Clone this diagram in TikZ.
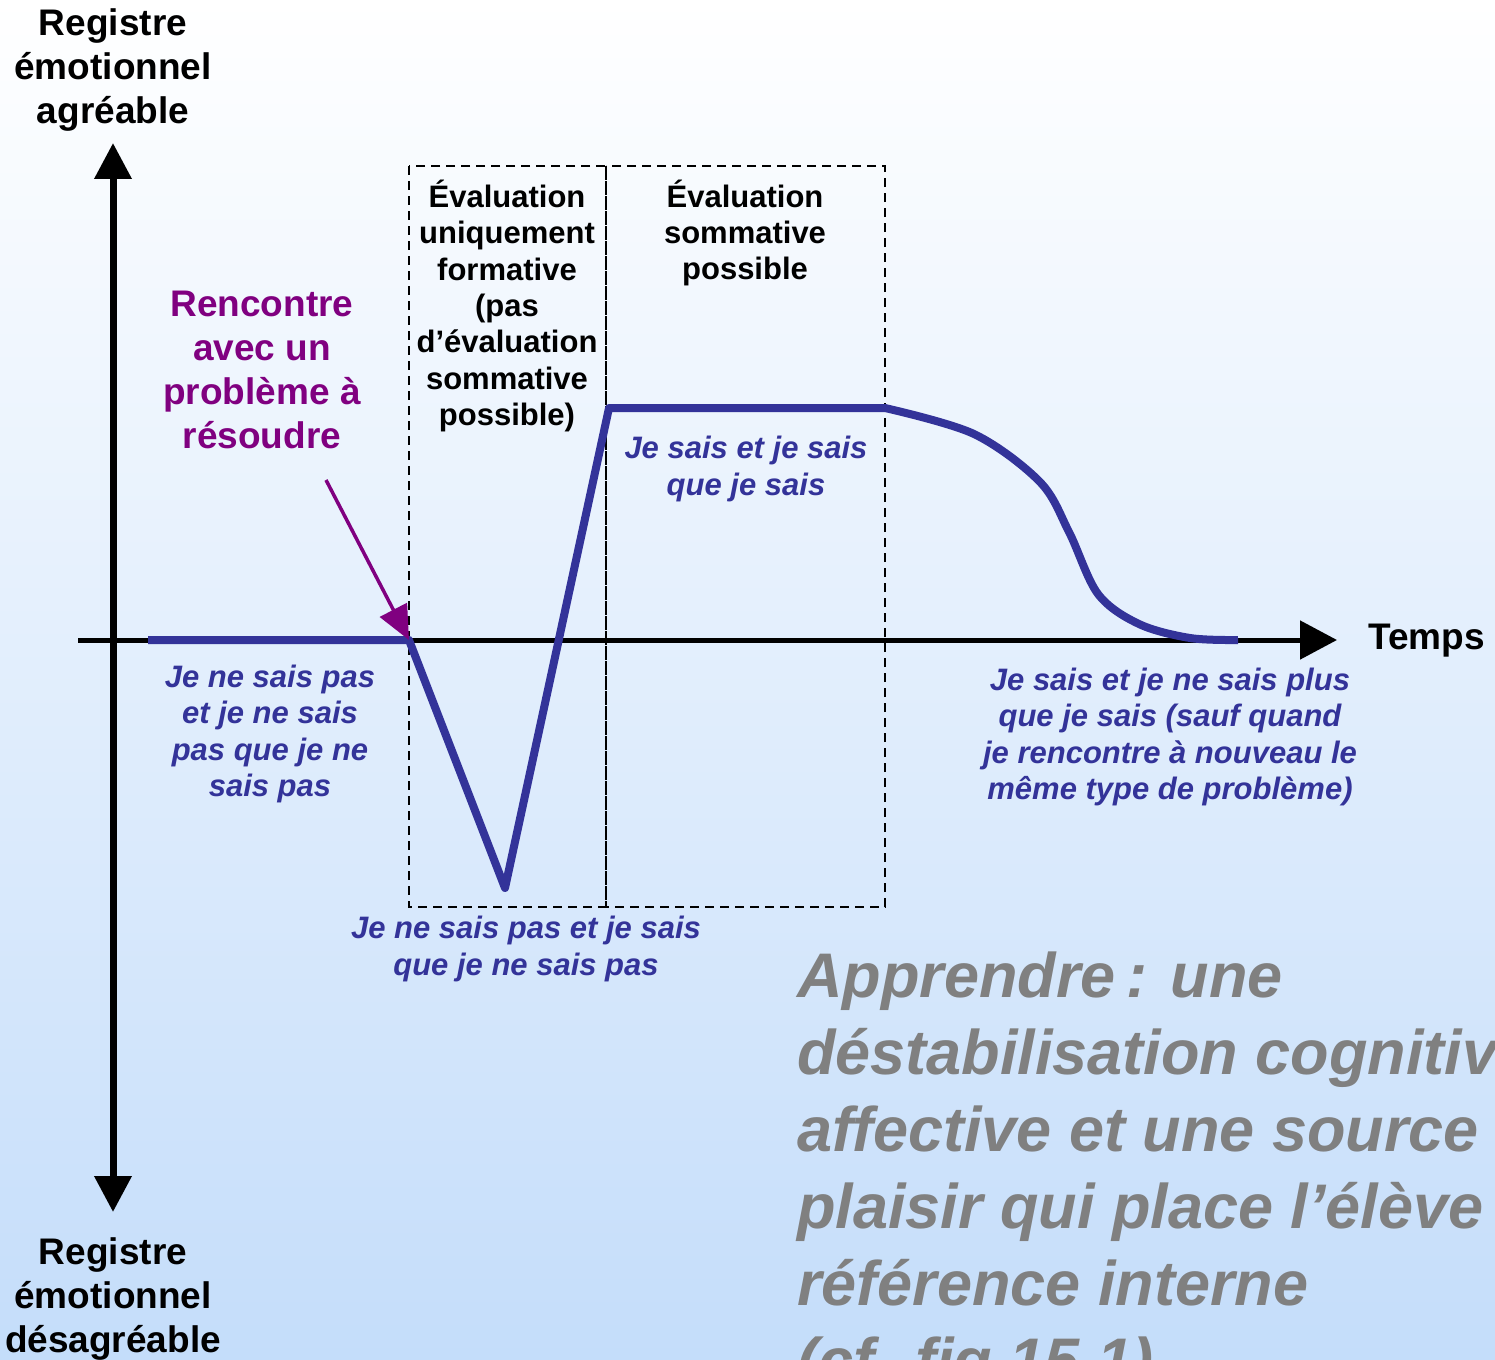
\documentclass[tikz,border=0pt]{standalone}
\usepackage{fontspec}
\setmainfont{Liberation Sans}
\usetikzlibrary{arrows.meta, positioning}
\definecolor{curveblue}{RGB}{51,51,153}
\definecolor{notepurple}{RGB}{128,0,128}
\definecolor{titlegray}{RGB}{128,128,128}
\definecolor{bgblue}{RGB}{196,221,250}
\tikzset{
    axis/.style={line width=7pt},
    bigtip/.style={{Triangle[width=36pt,length=36pt]}-{Triangle[width=36pt,length=36pt]}},
    axislabel/.style={
        font=\fontsize{37}{44}\selectfont\bfseries,
        align=center,
        inner sep=0pt
    },
    zone/.style={draw, line width=2.5pt, dash pattern=on 9pt off 6pt},
    zonelabel/.style={
        font=\fontsize{31}{36.3}\selectfont\bfseries,
        align=center,
        inner sep=0pt
    },
    state/.style={
        font=\fontsize{31}{36.5}\selectfont\bfseries\itshape,
        text=curveblue,
        align=center,
        inner sep=0pt
    },
    curve/.style={curveblue, line width=8pt, line join=round},
    pointer/.style={-{Triangle[width=30pt,length=34pt]}, notepurple, line width=3.5pt},
    title/.style={font=\fontsize{63}{77}\selectfont\bfseries\itshape, text=titlegray, align=left, inner sep=0pt}
}

\begin{document}
\begin{tikzpicture}[x=1pt, y=-1pt, node distance=30pt]
\useasboundingbox (0,0) rectangle (1495,1359);
\clip (0,0) rectangle (1495,1359);
\shade[top color=white, bottom color=bgblue] (0,0) rectangle (1495,1359);

\coordinate (top) at (113,143);
\coordinate (bottom) at (113,1212);
\coordinate (left) at (78,640);
\coordinate (right) at (1337,640);

\draw[zone] (409,166) rectangle (606,907);
\draw[zone] (606,166) rectangle (885,907);

\draw[axis, bigtip] (bottom) -- (top);
\draw[axis, line width=5pt, -{Triangle[width=38pt,length=37pt]}] (left) -- (right);

\coordinate (start) at (148,640);
\coordinate (o) at (409,640);
\coordinate (creux) at (505,888);
\coordinate (sommet) at (609,408);
\coordinate (plateau) at (885,408);
\coordinate (fin) at (1238,640);

\draw[curve] (start) -- (o) -- (creux) -- (sommet) -- (plateau)
    -- plot[smooth, tension=0.55] coordinates {(plateau) (974,434) (1040,482) (1069,532) (1098,594) (1139,624) (1190,638) (fin)};

\node[axislabel] (haut) at (113,70) {Registre\\émotionnel\\agréable};
\node[axislabel] (bas) at (113,1299) {Registre\\émotionnel\\désagréable};
\node[axislabel, right=31pt of right, yshift=-1pt] (temps) {Temps};

\node[zonelabel] (formative) at (507,306) {Évaluation\\uniquement\\formative\\(pas\\d’évaluation\\sommative\\possible)};
\node[zonelabel] (sommative) at (745,233) {Évaluation\\sommative\\possible};

\node[axislabel, text=notepurple] (rencontre) at (262,370) {Rencontre\\avec un\\problème à\\résoudre};
\coordinate (depart) at (326,480);
\draw[pointer] (depart) -- (o);

\node[state] (ignorance) at (270,734) {Je ne sais pas\\et je ne sais\\pas que je ne\\sais pas};
\node[state] (conscience) at (746,469) {Je sais et je sais\\que je sais};
\node[state] (manque) at (526,949) {Je ne sais pas et je sais\\que je ne sais pas};
\node[state] (oubli) at (1170,737) {Je sais et je ne sais plus\\que je sais (sauf quand\\je rencontre à nouveau le\\même type de problème)};

\node[title, anchor=west] (apprendre) at (797,1174) {Apprendre\,: une\\déstabilisation cognitive\\affective et une source\\plaisir qui place l’élève\\référence interne\\(cf. fig 15.1)};
\end{tikzpicture}
\end{document}
